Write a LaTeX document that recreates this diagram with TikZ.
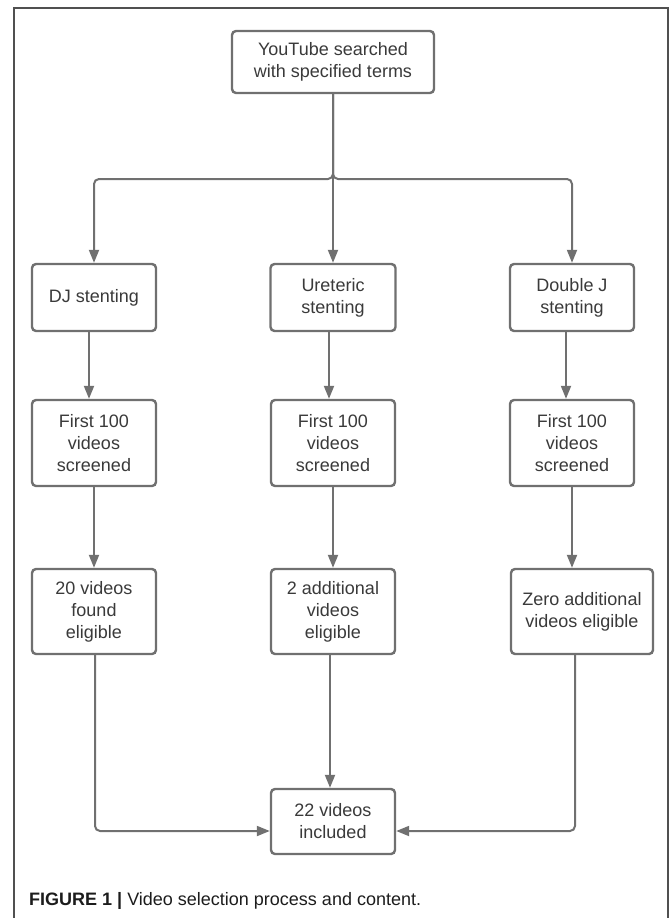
\documentclass[tikz,border=0pt]{standalone}
\usepackage{fontspec}
\setmainfont{Liberation Sans}
\usetikzlibrary{arrows.meta,calc}
\definecolor{linec}{RGB}{112,112,112}
\definecolor{textc}{RGB}{58,58,58}
\definecolor{framec}{RGB}{80,80,80}
\definecolor{capc}{RGB}{28,28,28}
\begin{document}
\begin{tikzpicture}[x=1pt,y=-1pt,
  box/.style={draw=linec, line width=2.4pt, rounded corners=4pt, fill=white, text=textc,
    align=center, font=\fontsize{18}{22}\selectfont, inner sep=0pt},
  conn/.style={draw=linec, line width=2pt, -{Triangle[length=13pt,width=10pt]}, rounded corners=5pt}
]
\useasboundingbox (0,0) rectangle (669,918);
\draw[framec, line width=1.3pt] (14,918) -- (14,8) -- (668,8) -- (668,918);

% nodes
\node[box, minimum width=202pt, minimum height=62pt] (top) at (333,62) {YouTube searched\\with specified terms};

\node[box, minimum width=124pt, minimum height=67pt] (dj)  at (94,297.5)  {DJ stenting};
\node[box, minimum width=125pt, minimum height=67pt] (ur)  at (333,297.5) {Ureteric\\stenting};
\node[box, minimum width=124pt, minimum height=67pt] (dbl) at (572,297.5) {Double J\\stenting};

\node[box, minimum width=124pt, minimum height=86pt] (s1) at (94,443)  {First 100\\videos\\screened};
\node[box, minimum width=124pt, minimum height=86pt] (s2) at (333,443) {First 100\\videos\\screened};
\node[box, minimum width=124pt, minimum height=86pt] (s3) at (572,443) {First 100\\videos\\screened};

\node[box, minimum width=124pt, minimum height=85pt] (e1) at (94,611.5)  {20 videos\\found\\eligible};
\node[box, minimum width=124pt, minimum height=85pt] (e2) at (333,611.5) {2 additional\\videos\\eligible};
\node[box, minimum width=142pt, minimum height=85pt] (e3) at (582,611.5) {Zero additional\\videos eligible};

\node[box, minimum width=124pt, minimum height=65pt] (fin) at (333,821.5) {22 videos\\included};

\node[anchor=west, text=capc, font=\fontsize{18}{22}\selectfont, inner sep=0pt] (cap) at (29,901)
  {\textbf{FIGURE 1 |} Video selection process and content.};

% connectors
\coordinate (br) at (333,179);
\draw[conn] (top.south) -- (top.south |- br) -| (dj.north);
\draw[conn] (top.south) -- (ur.north);
\draw[conn] (top.south) -- (top.south |- br) -| (dbl.north);

\draw[conn] ([xshift=-5pt]dj.south)  -- ([xshift=-5pt]s1.north);
\draw[conn] ([xshift=-4pt]ur.south)  -- ([xshift=-4pt]s2.north);
\draw[conn] ([xshift=-6pt]dbl.south) -- ([xshift=-6pt]s3.north);

\draw[conn] (s1.south) -- (e1.north);
\draw[conn] (s2.south) -- (e2.north);
\draw[conn] (s3.south) -- (s3.south |- e3.north);

\draw[conn] ([xshift=1pt]e1.south) |- ([yshift=-9.5pt]fin.west);
\draw[conn] ([xshift=-3pt]e2.south) -- ([xshift=-3pt]fin.north);
\draw[conn] ([xshift=-7pt]e3.south) |- ([yshift=-9.5pt]fin.east);
\end{tikzpicture}
\end{document}
